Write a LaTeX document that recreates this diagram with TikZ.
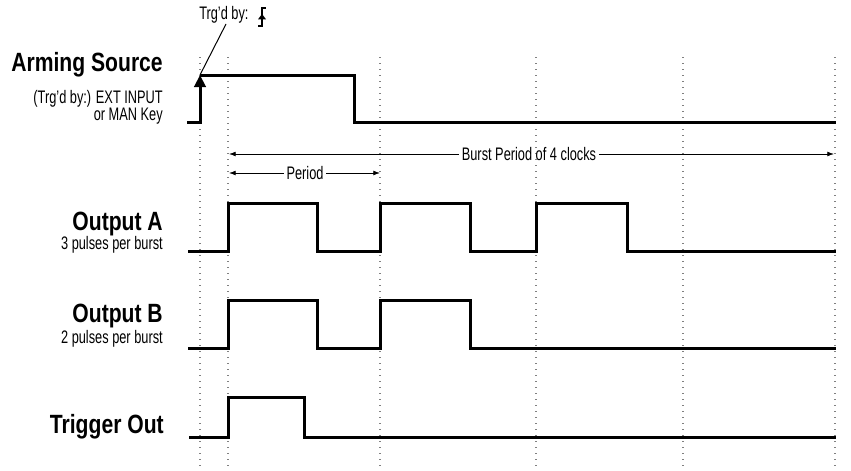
\documentclass[tikz,border=0pt]{standalone}
\usepackage{fontspec}
\setmainfont[FakeStretch=0.705]{Liberation Sans}
\newfontfamily\headfont[FakeStretch=0.8]{Liberation Sans}
\usetikzlibrary{arrows.meta}

\begin{document}
\begin{tikzpicture}[x=0.75pt, y=-0.75pt, sig/.style={line width=2.25pt, line join=miter}, grid/.style={gray, line width=0.8pt, dash pattern=on 0.8pt off 3.7pt}, dim/.style={line width=0.6pt}, title/.style={anchor=base east, inner sep=0pt, font=\fontsize{19.8}{22}\headfont\bfseries}, sub/.style={anchor=base east, inner sep=0pt, font=\fontsize{13.6}{16}\selectfont}, dimtip/.tip={Latex[length=5pt, width=3.6pt]}]
                \useasboundingbox (0,0) rectangle (851,471);
                % clock grid
                \foreach \x in {200,228,380,536,683,835}
                    \draw[grid] (\x,57) -- (\x,471);
                % nodes
                \node[title] (arm) at (163,71) {Arming Source};
                \node[sub] (armsrc) at (163,103) {(Trg'd by:) EXT INPUT};
                \node[sub] (armkey) at (163,120) {or MAN Key};
                \node[title] (outa) at (163,230) {Output A};
                \node[sub] (outasub) at (163,249) {3 pulses per burst};
                \node[title] (outb) at (163,322) {Output B};
                \node[sub] (outbsub) at (163,343) {2 pulses per burst};
                \node[title] (trig) at (164,433) {Trigger Out};
                \node[sub, anchor=base west] (trgd) at (199,19) {Trg'd by:};
                \node[sub, anchor=base, inner xsep=2pt] (burst) at (529,160) {Burst Period of 4 clocks};
                \node[sub, anchor=base, inner xsep=2pt] (period) at (305,179) {Period};
                \coordinate (armtip) at (200,75);
                \coordinate (lead) at (226,24);
                \coordinate (bstart) at (229,154);
                \coordinate (bend) at (834,154);
                \coordinate (pstart) at (229,173);
                \coordinate (pend) at (380,173);
                \coordinate (edge) at (262,26);
                % edge symbol
                \draw[line width=0.9pt] ([xshift=-3pt]edge) -- (edge) -- ([yshift=13.5pt]edge) -- ([xshift=2.7pt, yshift=13.5pt]edge);
                \fill ([yshift=9pt]edge) -- ([xshift=-3pt, yshift=5pt]edge) -- ([xshift=3pt, yshift=5pt]edge) -- cycle;
                % signals
                \draw[sig, -{Triangle[length=9pt, width=8.5pt]}] (187,122) -- (200,122) -- (armtip);
                \draw[sig] (armtip) -- (354,75) -- (354,122) -- (836,122);
                \draw[sig] (188,251) -- (228,251) -- (228,203) -- (317,203) -- (317,251) -- (380,251) -- (380,203) -- (470,203) -- (470,251) -- (536,251) -- (536,203) -- (627,203) -- (627,251) -- (836,251);
                \draw[sig] (188,348) -- (228,348) -- (228,300) -- (317,300) -- (317,348) -- (380,348) -- (380,300) -- (470,300) -- (470,348) -- (836,348);
                \draw[sig] (189,437) -- (228,437) -- (228,397) -- (304,397) -- (304,437) -- (836,437);
                % edges
                \draw[line width=0.75pt] (armtip) -- (lead);
                \draw[dim, dimtip-] (bstart) -- (bstart -| burst.west);
                \draw[dim, -dimtip] (bend -| burst.east) -- (bend);
                \draw[dim, dimtip-] (pstart) -- (pstart -| period.west);
                \draw[dim, -dimtip] (pend -| period.east) -- (pend);
            \end{tikzpicture}
\end{document}
